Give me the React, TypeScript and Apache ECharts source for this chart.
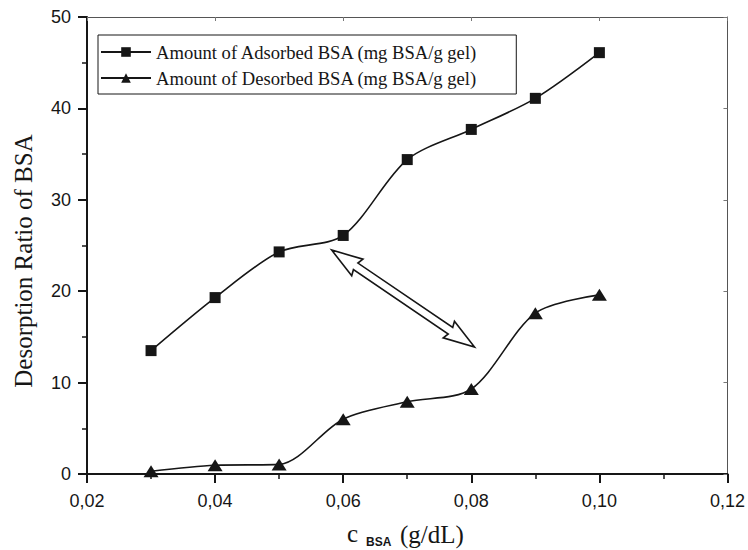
import React, { useEffect, useRef } from "react";
import * as echarts from "echarts";

// ---- data ----
const concentrations = [0.03, 0.04, 0.05, 0.06, 0.07, 0.08, 0.09, 0.1];
const adsorbed = [13.5, 19.3, 24.3, 26.1, 34.4, 37.7, 41.1, 46.1];
const desorbed = [0.3, 0.95, 1.05, 6.0, 7.9, 9.3, 17.6, 19.6];
const seriesNames = [
  "Amount of Adsorbed BSA (mg BSA/g gel)",
  "Amount of Desorbed BSA (mg BSA/g gel)",
];
const xAxisRange = [0.02, 0.12];
const xTickStep = 0.02;
const yAxisRange = [0, 50];
const yTickStep = 10;
// double arrow annotation endpoints (data coords)
const arrowStart = [0.0582, 24.5];
const arrowEnd = [0.0805, 13.9];

const INK = "#161616";
const SERIF = "'Liberation Serif', 'Times New Roman', serif";
const SANS = "'Liberation Sans', Arial, sans-serif";

export default function App() {
  const ref = useRef<HTMLDivElement>(null);

  useEffect(() => {
    document.body.style.margin = "0";
    if (!ref.current) return;
    const chart = echarts.init(ref.current, undefined, { renderer: "svg" });

    const toPairs = (ys: number[]) => concentrations.map((x, i) => [x, ys[i]]);

    const tickLabelStyle = {
      fontFamily: SANS,
      fontSize: 18,
      color: INK,
    };

    chart.setOption({
      animation: false,
      backgroundColor: "#ffffff",
      grid: { left: 87, right: 18, top: 17, bottom: 76, containLabel: false },
      legend: {
        left: 98,
        top: 35,
        orient: "vertical",
        padding: [6, 38, 5, 2],
        itemGap: 4,
        itemWidth: 50,
        itemHeight: 12,
        borderColor: INK,
        borderWidth: 1,
        borderRadius: 0,
        textStyle: { fontFamily: SERIF, fontSize: 18.6, color: INK, lineHeight: 22 },
        data: seriesNames,
      },
      xAxis: [
        {
          type: "value",
          min: xAxisRange[0],
          max: xAxisRange[1],
          interval: xTickStep,
          position: "bottom",
          axisLine: { show: true, onZero: false, lineStyle: { color: INK, width: 2 } },
          axisTick: { show: true, inside: false, length: 9, lineStyle: { color: INK, width: 2 } },
          minorTick: { show: true, splitNumber: 2, length: 5, lineStyle: { color: INK, width: 1.5 } },
          splitLine: { show: false },
          axisLabel: {
            ...tickLabelStyle,
            margin: 18,
            formatter: (v: number) => v.toFixed(2).replace(".", ","),
          },
        },
        {
          type: "value",
          min: xAxisRange[0],
          max: xAxisRange[1],
          interval: xTickStep,
          position: "top",
          axisLine: { show: true, onZero: false, lineStyle: { color: "#555", width: 1 } },
          axisTick: { show: true, inside: true, length: 4, lineStyle: { color: "#777", width: 1 } },
          axisLabel: { show: false },
          splitLine: { show: false },
        },
      ],
      yAxis: [
        {
          type: "value",
          min: yAxisRange[0],
          max: yAxisRange[1],
          interval: yTickStep,
          position: "left",
          axisLine: { show: true, onZero: false, lineStyle: { color: INK, width: 2 } },
          axisTick: { show: true, inside: false, length: 9, lineStyle: { color: INK, width: 2 } },
          minorTick: { show: true, splitNumber: 2, length: 5, lineStyle: { color: INK, width: 1.5 } },
          splitLine: { show: false },
          axisLabel: { ...tickLabelStyle, margin: 16 },
        },
        {
          type: "value",
          min: yAxisRange[0],
          max: yAxisRange[1],
          interval: yTickStep,
          position: "right",
          axisLine: { show: true, onZero: false, lineStyle: { color: "#555", width: 1 } },
          axisTick: { show: true, inside: true, length: 4, lineStyle: { color: "#777", width: 1 } },
          axisLabel: { show: false },
          splitLine: { show: false },
        },
      ],
      series: [
        {
          name: seriesNames[0],
          type: "line",
          data: toPairs(adsorbed),
          smooth: 0.3,
          symbol: "rect",
          symbolSize: 11,
          showAllSymbol: true,
          lineStyle: { color: INK, width: 1.6 },
          itemStyle: { color: INK },
        },
        {
          name: seriesNames[1],
          type: "line",
          data: toPairs(desorbed),
          smooth: 0.3,
          symbol: "triangle",
          symbolSize: [15, 12],
          showAllSymbol: true,
          lineStyle: { color: INK, width: 1.6 },
          itemStyle: { color: INK },
        },
      ],
    });

    // arrow + titles via graphic
    const p1 = chart.convertToPixel({ gridIndex: 0 }, arrowStart) as number[];
    const p2 = chart.convertToPixel({ gridIndex: 0 }, arrowEnd) as number[];
    const dx = p2[0] - p1[0];
    const dy = p2[1] - p1[1];
    const L = Math.hypot(dx, dy);
    const ux = dx / L, uy = dy / L;
    const nx = -uy, ny = ux;
    const headLen = 31, headW = 10, shaftW = 4;
    const pt = (base: number[], a: number, n: number) => [
      base[0] + ux * a + nx * n,
      base[1] + uy * a + ny * n,
    ];
    const arrowPoints = [
      p1,
      pt(p1, headLen, headW),
      pt(p1, headLen - 2, shaftW),
      pt(p2, -headLen + 2, shaftW),
      pt(p2, -headLen, headW),
      p2,
      pt(p2, -headLen, -headW),
      pt(p2, -headLen + 2, -shaftW),
      pt(p1, headLen - 2, -shaftW),
      pt(p1, headLen, -headW),
    ];

    chart.setOption({
      graphic: [
        {
          type: "polygon",
          shape: { points: arrowPoints },
          style: { fill: "#ffffff", stroke: INK, lineWidth: 1.6, lineJoin: "miter" },
          z: 10,
        },
        {
          type: "text",
          x: 23,
          y: 261,
          rotation: Math.PI / 2,
          style: {
            text: "Desorption Ratio of BSA",
            font: `25px ${SERIF}`,
            fill: INK,
            textAlign: "center",
            textVerticalAlign: "middle",
          },
        },
        {
          type: "text",
          x: 347,
          y: 546,
          style: {
            text: "c",
            font: `25px ${SERIF}`,
            fill: INK,
            textAlign: "left",
            textVerticalAlign: "bottom",
          },
        },
        {
          type: "text",
          x: 366,
          y: 548,
          style: {
            text: "BSA",
            font: `bold 12px ${SANS}`,
            fill: INK,
            textAlign: "left",
            textVerticalAlign: "bottom",
          },
        },
        {
          type: "text",
          x: 400,
          y: 547,
          style: {
            text: "(g/dL)",
            font: `25px ${SERIF}`,
            fill: INK,
            textAlign: "left",
            textVerticalAlign: "bottom",
          },
        },
      ],
    });

    return () => chart.dispose();
  }, []);

  return <div ref={ref} style={{ width: 748, height: 550 }} />;
}
